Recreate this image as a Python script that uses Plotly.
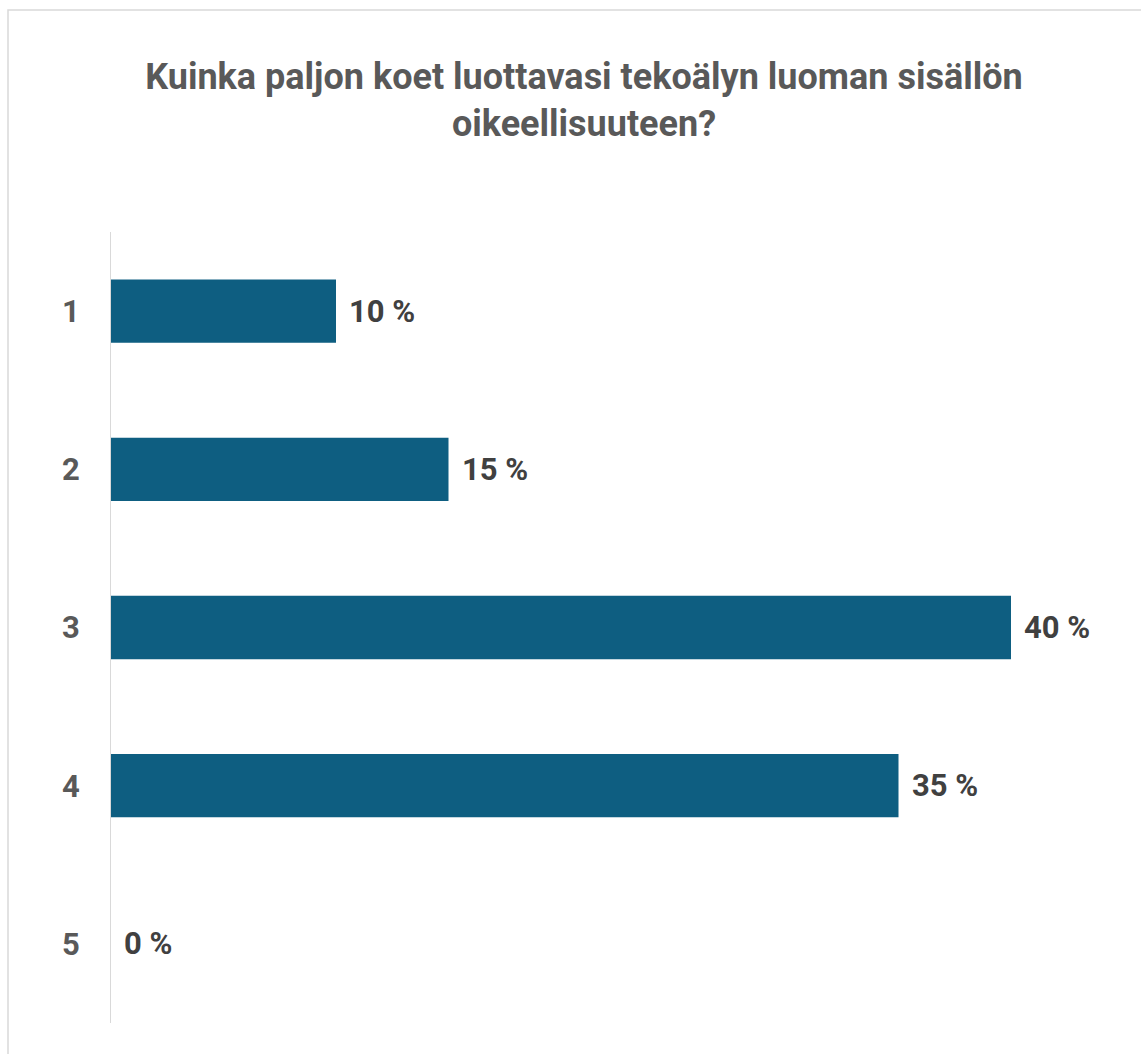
import plotly.graph_objects as go

categories = ["1", "2", "3", "4", "5"]
values = [10, 15, 40, 35, 0]
value_labels = ["10 %", "15 %", "40 %", "35 %", "0 %"]
title_text = "Kuinka paljon koet luottavasi tekoälyn luoman sisällön<br>oikeellisuuteen?"

W, H = 1141, 1054
L, R, T, B = 111, 130, 232, 31
FONT = "Roboto, Arial, sans-serif"

fig = go.Figure()
fig.add_trace(go.Bar(
    x=values, y=categories, orientation="h",
    marker=dict(color="#0E5E81", line=dict(width=0)),
    width=0.4, hoverinfo="skip",
))

for i, (v, t) in enumerate(zip(values, value_labels)):
    fig.add_annotation(x=v, y=i, text=t, xref="x", yref="y",
                       xanchor="left", yanchor="middle", xshift=11, showarrow=False,
                       font=dict(family=FONT, size=31, color="#404040", weight="bold"))

pw = W - L - R
ph = H - T - B
fig.add_shape(type="rect", xref="paper", yref="paper",
              x0=(8 - L) / pw, x1=(W + 10 - L) / pw,
              y0=(H - B - (H + 10)) / ph, y1=(H - B - 10) / ph,
              line=dict(color="#D9D9D9", width=1.5), fillcolor="rgba(0,0,0,0)", layer="below")

fig.update_layout(
    width=W, height=H,
    margin=dict(l=L, r=R, t=T, b=B, pad=0),
    paper_bgcolor="white", plot_bgcolor="white",
    showlegend=False,
    title=dict(text=title_text, x=584 / W, xanchor="center", xref="container",
               y=1 - 89 / H, yanchor="top", yref="container",
               font=dict(family=FONT, size=36, color="#595959", weight="bold"),
               ),
    xaxis=dict(range=[0, 40], visible=False, fixedrange=True),
    yaxis=dict(autorange=False, range=[4.5, -0.5], type="category",
               showline=True, linecolor="#D9D9D9", linewidth=1,
               showgrid=False, zeroline=False, ticks="", ticklabelstandoff=24,
               tickfont=dict(family=FONT, size=31, color="#595959", weight="bold")),
)

fig.write_html("out.html")
